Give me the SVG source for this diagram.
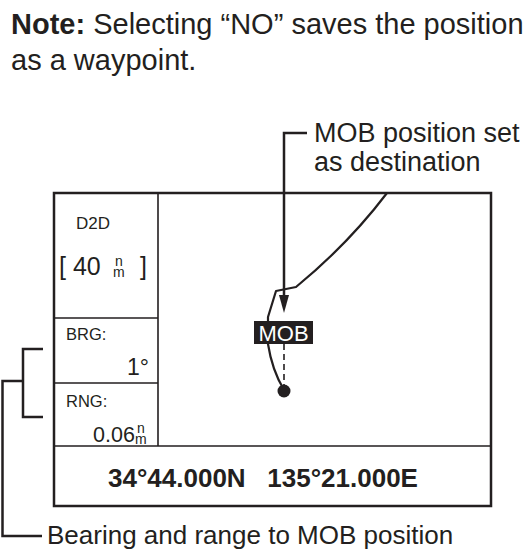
<svg xmlns="http://www.w3.org/2000/svg" width="531" height="551" viewBox="0 0 531 551">
<style>
text{font-family:"Liberation Sans",Arial,sans-serif;fill:#231f20}
.b{font-weight:bold}
.frame{fill:none;stroke:#231f20;stroke-width:2.5}
.div{fill:none;stroke:#231f20;stroke-width:1.6}
.lead{fill:none;stroke:#231f20;stroke-width:2.5}
.trk{fill:none;stroke:#231f20;stroke-width:2.2;stroke-linejoin:round}
.sm{font-size:14px}
</style>
<rect width="531" height="551" fill="#fff"/>
<g id="note">
<text x="11" y="34" font-size="29"><tspan class="b">Note:</tspan> Selecting “NO” saves the position</text>
<text x="11" y="70" font-size="29">as a waypoint.</text>
</g>
<g id="display">
<rect class="frame" x="54" y="193" width="437" height="313"/>
<path class="div" d="M158,193 V446 M54,446 H491 M54,318 H158 M54,383 H158"/>
</g>
<g id="panel-d2d">
<text x="76" y="229" font-size="17">D2D</text>
<text x="59" y="275" font-size="25">[ 40</text>
<text class="sm"><tspan x="115" y="266">n</tspan><tspan x="113" y="277">m</tspan></text>
<text x="140" y="275" font-size="25">]</text>
</g>
<g id="panel-brg">
<text x="66" y="340" font-size="16.5">BRG:</text>
<text x="149" y="375" font-size="23" text-anchor="end">1°</text>
</g>
<g id="panel-rng">
<text x="66" y="407" font-size="16.5">RNG:</text>
<text x="93" y="442" font-size="21.5">0.06</text>
<text class="sm"><tspan x="137" y="433">n</tspan><tspan x="135" y="444">m</tspan></text>
</g>
<g id="coords">
<text class="b" x="108" y="487" font-size="26" xml:space="preserve">34°44.000N   135°21.000E</text>
</g>
<g id="track">
<path class="trk" d="M387,193 C365,222 335,255 296,287 L276,291 L268,317 L268,344 Q272,370 284,390"/>
<line x1="284" y1="344" x2="284" y2="386" stroke="#231f20" stroke-width="1.6" stroke-dasharray="6 4"/>
<circle cx="284" cy="391" r="6.5" fill="#231f20"/>
</g>
<g id="mob">
<rect x="254" y="321" width="59" height="23" fill="#231f20"/>
<text x="283.5" y="341" font-size="22" text-anchor="middle" style="fill:#fff">MOB</text>
</g>
<g id="label-destination">
<text x="314" y="142" font-size="27">MOB position set</text>
<text x="314" y="171" font-size="27">as destination</text>
</g>
<g id="label-bearing">
<text x="47" y="544" font-size="26">Bearing and range to MOB position</text>
</g>
<g id="connectors">
<path class="lead" d="M307,133 H284 V296"/>
<polygon points="279,295 289,295 284,313" fill="#231f20"/>
<path class="lead" d="M43,349 H23 V417 H43 M23,381 H2.5 V536 H42"/>
</g>
</svg>
